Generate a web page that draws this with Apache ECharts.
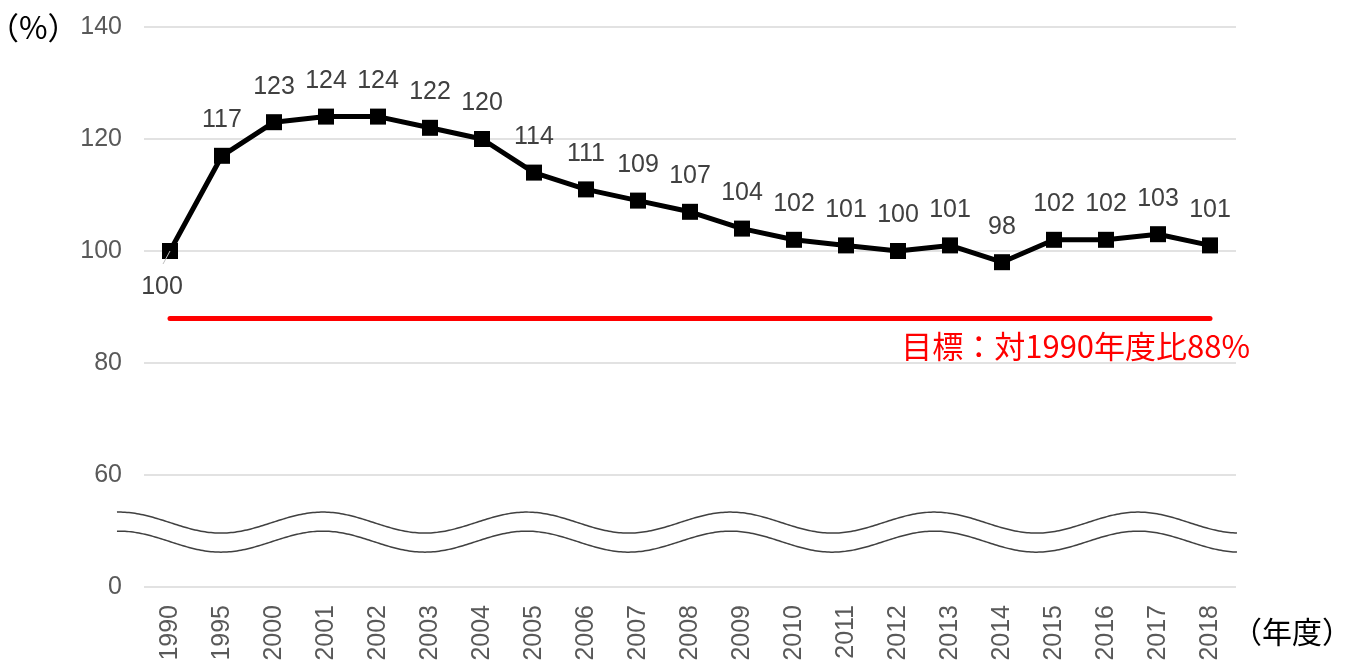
<!DOCTYPE html>
<html><head><meta charset="utf-8">
<script src="https://cdn.jsdelivr.net/npm/echarts@6/dist/echarts.min.js"></script>
<style>html,body{margin:0;padding:0;background:#fff;}#c{width:1352px;height:665px;}</style>
</head><body><div id="c"></div>
<script>
const categories = ['1990','1995','2000','2001','2002','2003','2004','2005','2006','2007','2008','2009','2010','2011','2012','2013','2014','2015','2016','2017','2018'];
const values = [100,117,123,124,124,122,120,114,111,109,107,104,102,101,100,101,98,102,102,103,101];
const targetValue = 88;
const targetText = '目標：対1990年度比88%';
const yMin = 40, yMax = 140, yInterval = 20;
const yTickLabels = {40:'0',60:'60',80:'80',100:'100',120:'120',140:'140'};
const yUnit = '（%）';
const xUnit = '（年度）';

const chart = echarts.init(document.getElementById('c'), null, {renderer:'canvas'});
const NUM = '"Liberation Sans", Arial, sans-serif';
const JP = '"Noto Sans CJK JP", sans-serif';

chart.setOption({
  animation:false,
  grid:{left:144, right:116, top:27, bottom:78, containLabel:false},
  xAxis:{
    type:'category', data:categories, boundaryGap:true,
    axisLine:{show:false}, axisTick:{show:false},
    axisLabel:{rotate:90, margin:18, fontSize:25, color:'#595959', fontFamily:NUM, interval:0}
  },
  yAxis:{
    type:'value', min:yMin, max:yMax, interval:yInterval,
    axisLine:{show:false}, axisTick:{show:false},
    axisLabel:{margin:22, fontSize:25, color:'#595959', fontFamily:NUM,
      formatter:v=>yTickLabels[v] !== undefined ? yTickLabels[v] : ''},
    splitLine:{show:true, lineStyle:{color:'#d9d9d9', width:1.5}}
  },
  series:[
    {
      type:'line', data:values, symbol:'rect', symbolSize:16,
      lineStyle:{color:'#000', width:5}, itemStyle:{color:'#000'},
      label:{show:true, position:'top', distance:15, fontSize:25, color:'#404040', fontFamily:NUM},
      labelLayout:function(p){ if(p.dataIndex===0){ return {dx:-8, dy:72}; } return {}; },
      markLine:{
        silent:true, symbol:['none','none'], label:{show:false},
        lineStyle:{color:'#ff0000', width:5, type:'solid', cap:'round'},
        data:[[{coord:[0,targetValue]},{coord:[categories.length-1,targetValue]}]]
      },
      z:5
    }
  ]
});

function drawExtras(){
  const g = [];
  const toY = v => chart.convertToPixel({yAxisIndex:0}, v);
  const toX = i => chart.convertToPixel({xAxisIndex:0}, i);
  const step = toX(1) - toX(0);
  const x0 = toX(0) - step*1.02, x1 = toX(categories.length-1) + step*0.54;
  const pxPerUnit = (toY(60) - toY(80)) / 20;
  const centers = [toY(51.5), toY(48.1)];
  const amp = 1.875 * pxPerUnit;
  const period = step * 3.92;
  const phaseX = toX(0) + step*2.94;
  centers.forEach(cy=>{
    const pts = [];
    for(let x=x0; x<=x1+0.1; x+=2){
      pts.push([x, cy - amp*Math.cos(2*Math.PI*(x-phaseX)/period)]);
    }
    g.push({type:'polyline', shape:{points:pts}, style:{stroke:'#404040', lineWidth:1.5, fill:null}, z:10});
  });
  // leader line for first label
  const px = toX(0), py = toY(values[0]);
  g.push({type:'line', shape:{x1:px-7, y1:py+13, x2:px, y2:py}, style:{stroke:'#bfbfbf', lineWidth:1}, z:20});
  g.push({type:'text', x:toX(categories.length-1)+40, y:toY(targetValue)+28,
    style:{text:targetText, fill:'#ff0000', font:'31px '+JP, align:'right', verticalAlign:'middle'}, z:10});
  g.push({type:'text', x:-12, y:toY(140), style:{text:yUnit, fill:'#000', font:'31px '+JP, align:'left', verticalAlign:'middle'}, z:10});
  g.push({type:'text', x:1232, y:632, style:{text:xUnit, fill:'#000', font:'30px '+JP, align:'left', verticalAlign:'middle'}, z:10});
  chart.setOption({graphic:g});
}
drawExtras();
</script>
</body></html>
